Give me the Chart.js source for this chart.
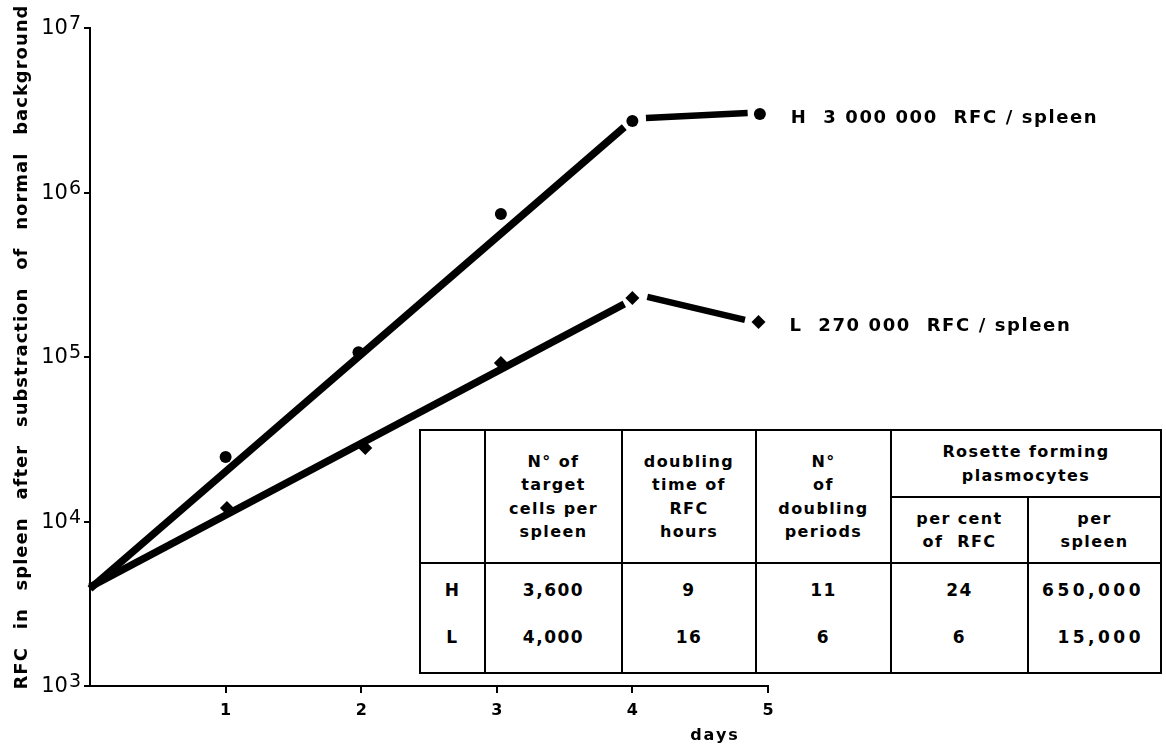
<!DOCTYPE html>
<html>
<head>
<meta charset="utf-8">
<script src="https://cdn.jsdelivr.net/npm/chart.js@4/dist/chart.umd.min.js"></script>
<style>
  html, body { margin: 0; padding: 0; background: #fff; }
  #wrap { position: relative; width: 1166px; height: 746px; overflow: hidden; }
  #c { position: absolute; left: 0; top: 0; }
  .cell {
    position: absolute; box-sizing: border-box; border: 2px solid #000;
    display: flex; flex-direction: column; align-items: center; justify-content: center;
    font-family: "DejaVu Sans", sans-serif; font-weight: bold; font-size: 16px; letter-spacing: 1.4px;
    color: #000; background: #fff; line-height: 23.5px; white-space: pre;
  }
  .cell.body { justify-content: flex-start; padding-top: 3px; line-height: 47px; font-size: 17px; letter-spacing: 1.5px; }
  .cell.right { align-items: flex-end; padding-right: 16px; letter-spacing: 3.5px; }
</style>
</head>
<body>
<div id="wrap">
  <canvas id="c" width="1166" height="746"></canvas>
</div>
<script>
// ---- axis ticks ----
const dayTicks = [1, 2, 3, 4, 5];
const rfcTicks = [1e3, 1e4, 1e5, 1e6, 1e7];

// ---- measured RFC per spleen (H = high responders, L = low responders) ----
const hDays = [1.0, 1.98, 3.03, 4.0, 4.94];
const hRFC  = [24700, 107000, 739000, 2720000, 3000000];
const lDays = [1.01, 2.03, 3.03, 4.0, 4.93];
const lRFC  = [12100, 28000, 92000, 228000, 163000];

// ---- exponential growth phase (straight on the log axis) ----
const hGrowthDays = [0, 3.94];
const hGrowthRFC  = [3900, 2500000];
const lGrowthDays = [0, 3.94];
const lGrowthRFC  = [4000, 210000];

// ---- day 4 -> day 5 segments ----
const hPlateauDays = [4.1, 4.85];
const hPlateauRFC  = [2840000, 3040000];
const lPlateauDays = [4.11, 4.83];
const lPlateauRFC  = [232000, 168000];

// ---- texts ----
const seriesLabels = ['H  3 000 000  RFC / spleen', 'L  270 000  RFC / spleen'];
const yTitle = 'RFC in spleen after substraction of normal background';
const xTitle = 'days';

// ---- summary table ----
const tableHeaders = [
  ['N° of', 'target', 'cells per', 'spleen'],
  ['doubling', 'time of', 'RFC', 'hours'],
  ['N°', 'of', 'doubling', 'periods']
];
const rosetteHeader = ['Rosette forming', 'plasmocytes'];
const rosetteSubHeaders = [['per cent', 'of  RFC'], ['per', 'spleen']];
const rowLabels = ['H', 'L'];
const targetCells = ['3,600', '4,000'];
const doublingHours = ['9', '16'];
const doublingPeriods = ['11', '6'];
const percentOfRFC = ['24', '6'];
const plasmocytesPerSpleen = ['650,000', '15,000'];

const pairs = (xs, ys) => xs.map((x, i) => ({ x: x, y: ys[i] }));

const lineStyle = (w) => ({
  borderColor: '#000', borderWidth: w, pointRadius: 0, fill: false,
  tension: 0, borderCapStyle: 'butt', clip: false
});
const markStyle = (shape, r) => ({
  showLine: false, pointStyle: shape, pointRadius: r, pointHoverRadius: r,
  pointBackgroundColor: '#000', pointBorderColor: '#000', pointBorderWidth: 0, clip: false
});

const FONT = '"DejaVu Sans", sans-serif';

// Texts painted onto the canvas: power-of-ten labels, axis titles, series notes.
const inkPlugin = {
  id: 'ink',
  afterDraw(chart) {
    const { ctx, chartArea, scales } = chart;
    const ys = scales.y;
    ctx.save();
    ctx.fillStyle = '#000';
    ctx.textBaseline = 'alphabetic';

    // 10^n labels on the log axis
    ys.ticks.forEach(t => {
      const py = ys.getPixelForValue(t.value);
      const exp = String(Math.round(Math.log10(t.value)));
      ctx.textAlign = 'right';
      ctx.font = '19px ' + FONT;
      const ew = ctx.measureText(exp).width;
      const right = chartArea.left - 9;
      ctx.fillText(exp, right, py + 1);
      ctx.font = '21px ' + FONT;
      ctx.fillText('10', right - ew - 1, py + 6);
    });

    // vertical axis title
    ctx.save();
    ctx.translate(27, 347);
    ctx.rotate(-Math.PI / 2);
    ctx.font = 'bold 18px ' + FONT;
    ctx.textAlign = 'center';
    if ('letterSpacing' in ctx) ctx.letterSpacing = '1px';
    const gaps = yTitle.split(' ').length - 1;
    if ('wordSpacing' in ctx) {
      ctx.wordSpacing = '0px';
      const w0 = ctx.measureText(yTitle).width;
      ctx.wordSpacing = Math.max(0, (685 - w0) / gaps) + 'px';
    }
    ctx.fillText(yTitle, 0, 0);
    ctx.restore();

    // horizontal axis title
    ctx.save();
    ctx.font = 'bold 16px ' + FONT;
    ctx.textAlign = 'center';
    if ('letterSpacing' in ctx) ctx.letterSpacing = '2px';
    ctx.fillText(xTitle, chartArea.right - 53, chartArea.bottom + 54);
    ctx.restore();

    // notes at the end of each series
    ctx.save();
    ctx.font = 'bold 18px ' + FONT;
    ctx.textAlign = 'left';
    if ('letterSpacing' in ctx) ctx.letterSpacing = '1.6px';
    [4, 5].forEach((di, k) => {
      const pts = chart.getDatasetMeta(di).data;
      const last = pts[pts.length - 1];
      ctx.fillText(seriesLabels[k], last.x + 31, last.y + 9);
    });
    ctx.restore();

    ctx.restore();
  }
};

new Chart(document.getElementById('c'), {
  type: 'line',
  data: {
    datasets: [
      Object.assign({ label: 'H growth', data: pairs(hGrowthDays, hGrowthRFC) }, lineStyle(7.5)),
      Object.assign({ label: 'L growth', data: pairs(lGrowthDays, lGrowthRFC) }, lineStyle(7.5)),
      Object.assign({ label: 'H day 4-5', data: pairs(hPlateauDays, hPlateauRFC) }, lineStyle(6.5)),
      Object.assign({ label: 'L day 4-5', data: pairs(lPlateauDays, lPlateauRFC) }, lineStyle(6.5)),
      Object.assign({ label: 'H', data: pairs(hDays, hRFC) }, markStyle('circle', 6)),
      Object.assign({ label: 'L', data: pairs(lDays, lRFC) }, markStyle('rectRot', 7))
    ]
  },
  options: {
    responsive: false,
    animation: false,
    layout: { padding: { top: 28, right: 398, left: 0, bottom: 0 } },
    plugins: { legend: { display: false }, tooltip: { enabled: false } },
    scales: {
      x: {
        type: 'linear', min: 0, max: 5,
        afterBuildTicks: s => { s.ticks = dayTicks.map(v => ({ value: v })); },
        afterFit: s => { s.height = 60; },
        ticks: { color: '#000', font: { family: FONT, size: 16, weight: 'bold' }, padding: 8, maxRotation: 0 },
        grid: { drawOnChartArea: false, drawTicks: true, tickLength: 7, color: '#000', lineWidth: 2 },
        border: { display: true, color: '#000', width: 2 }
      },
      y: {
        type: 'logarithmic', min: 1e3, max: 1e7,
        afterBuildTicks: s => { s.ticks = rfcTicks.map(v => ({ value: v })); },
        afterFit: s => { s.width = 90; },
        ticks: { display: false },
        grid: { drawOnChartArea: false, drawTicks: true, tickLength: 6, color: '#000', lineWidth: 2 },
        border: { display: true, color: '#000', width: 2 }
      }
    }
  },
  plugins: [inkPlugin]
});

// ---- summary table, laid over the lower right of the plot ----
(function buildTable() {
  const wrap = document.getElementById('wrap');
  const colX = [420, 485, 622, 756, 891, 1161];
  const subX = 1028;
  const rowY = [430, 497, 563, 673];
  function cell(x0, y0, x1, y1, lines, extra) {
    const d = document.createElement('div');
    d.className = 'cell' + (extra ? ' ' + extra : '');
    d.style.left = (x0 - 1) + 'px';
    d.style.top = (y0 - 1) + 'px';
    d.style.width = (x1 - x0 + 2) + 'px';
    d.style.height = (y1 - y0 + 2) + 'px';
    lines.forEach(t => {
      const s = document.createElement('div');
      s.textContent = t;
      d.appendChild(s);
    });
    wrap.appendChild(d);
  }
  // header
  cell(colX[0], rowY[0], colX[1], rowY[2], []);
  tableHeaders.forEach((h, i) => cell(colX[i + 1], rowY[0], colX[i + 2], rowY[2], h));
  cell(colX[4], rowY[0], colX[5], rowY[1], rosetteHeader);
  cell(colX[4], rowY[1], subX, rowY[2], rosetteSubHeaders[0]);
  cell(subX, rowY[1], colX[5], rowY[2], rosetteSubHeaders[1]);
  // body
  cell(colX[0], rowY[2], colX[1], rowY[3], rowLabels, 'body');
  cell(colX[1], rowY[2], colX[2], rowY[3], targetCells, 'body');
  cell(colX[2], rowY[2], colX[3], rowY[3], doublingHours, 'body');
  cell(colX[3], rowY[2], colX[4], rowY[3], doublingPeriods, 'body');
  cell(colX[4], rowY[2], subX, rowY[3], percentOfRFC, 'body');
  cell(subX, rowY[2], colX[5], rowY[3], plasmocytesPerSpleen, 'body right');
})();
</script>
</body>
</html>
